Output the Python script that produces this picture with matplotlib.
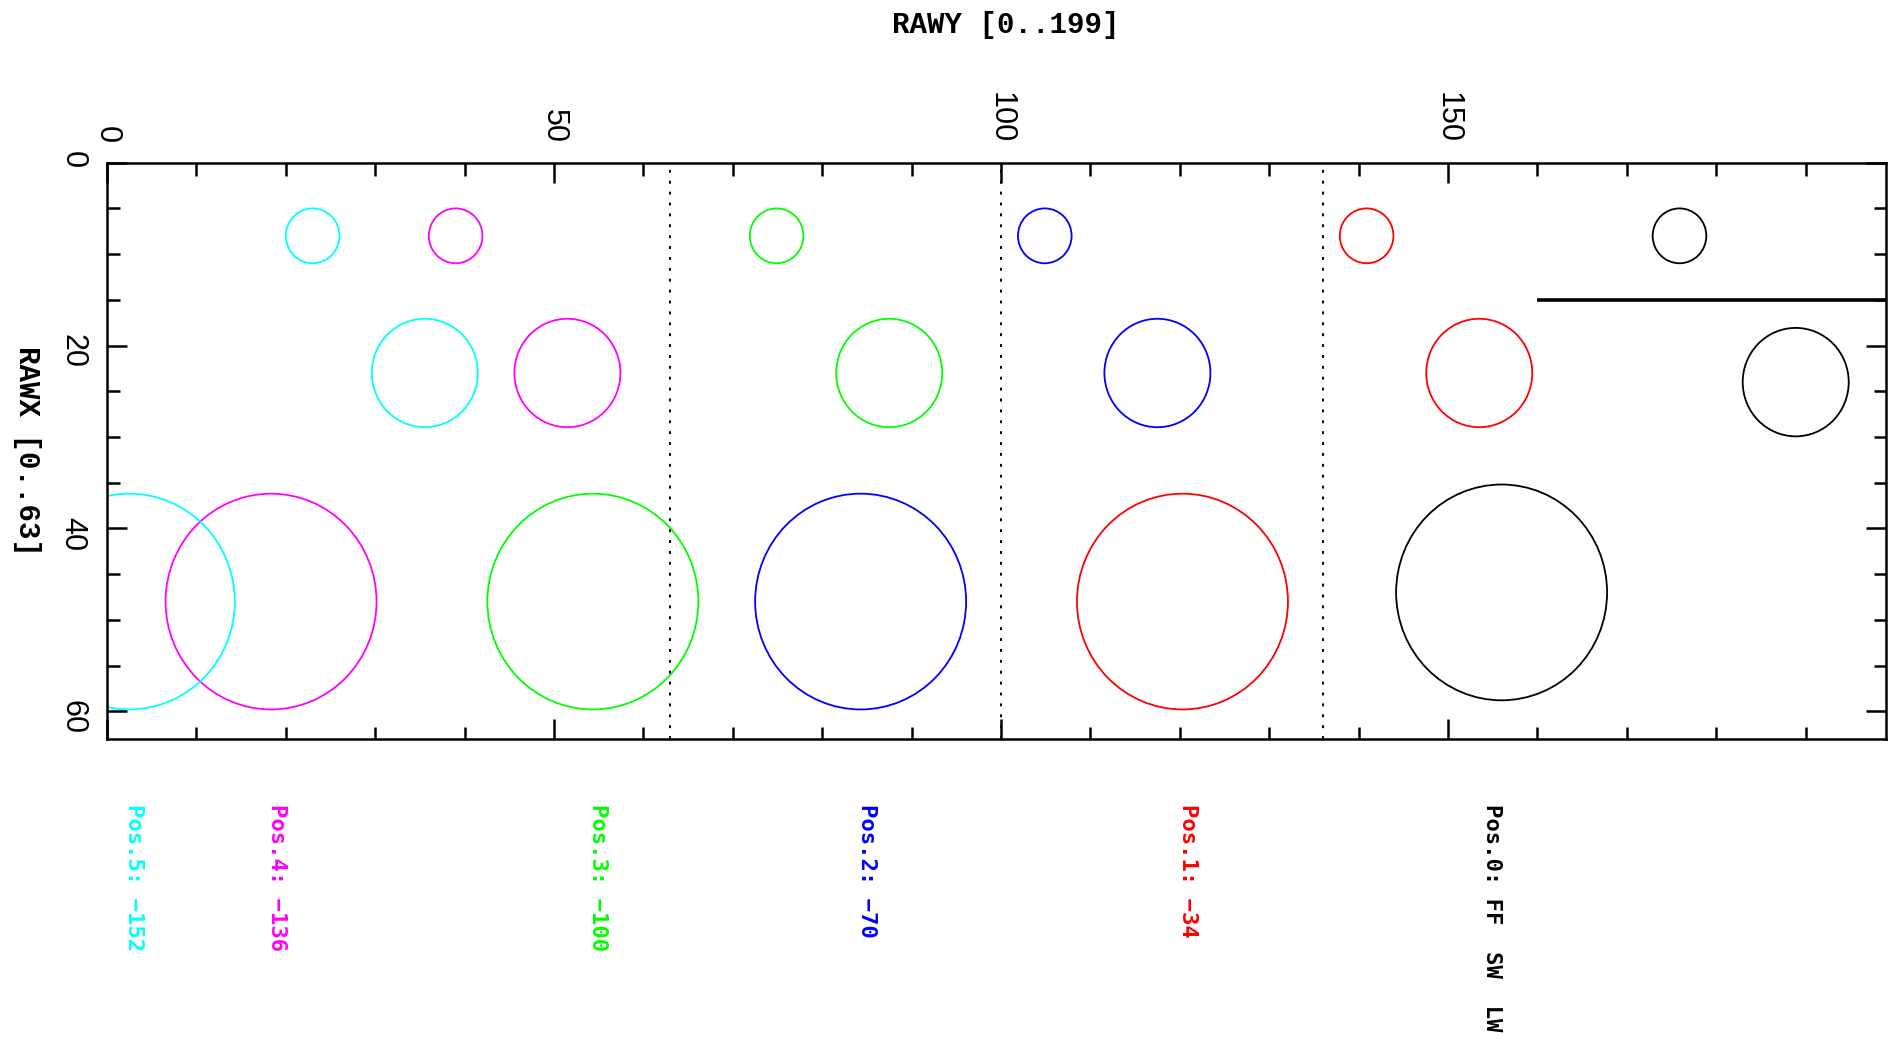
import matplotlib
matplotlib.use("Agg")
import matplotlib.pyplot as plt
from matplotlib.patches import Circle
from matplotlib.ticker import MultipleLocator
import matplotlib.transforms as mtransforms

# window positions (RAWY), one colour per position, Pos.0 .. Pos.5
pos_names = ["Pos.0: FF  SW  LW", "Pos.1: \u221234", "Pos.2: \u221270",
             "Pos.3: \u2212100", "Pos.4: \u2212136", "Pos.5: \u2212152"]
pos_colors = ["black", "red", "blue", "#00ff00", "magenta", "cyan"]

# circle centres in RAWY for the three rows (small / medium / large)
small_rawy = [175.9, 140.9, 104.9, 74.9, 39.0, 23.0]
medium_rawy = [188.9, 153.5, 117.5, 87.5, 51.5, 35.55]
large_rawy = [156.0, 120.3, 84.3, 54.35, 18.35, 2.5]

# circle centres in RAWX
small_rawx = [8, 8, 8, 8, 8, 8]
medium_rawx = [24, 23, 23, 23, 23, 23]
large_rawx = [47, 48, 48, 48, 48, 48]

small_r = 3.0
medium_r = 5.93
large_r = 11.8

label_rawy = [154.9, 120.9, 85.0, 54.9, 19.0, 3.0]

# boundaries between windows
boundaries = [63, 100, 136]

# thick bar
bar_rawy = [160, 199]
bar_rawx = 15

W, H = 1890, 1043
fig = plt.figure(figsize=(W / 100, H / 100), dpi=100)
ax = fig.add_axes([107 / W, 1 - 738.7 / H, 1779 / W, 576 / H])
ax.set_xlim(0, 199)
ax.set_ylim(63, 0)

for rows in [(small_rawy, small_rawx, small_r),
             (medium_rawy, medium_rawx, medium_r),
             (large_rawy, large_rawx, large_r)]:
    xs, ys, r = rows
    for x, y, c in zip(xs, ys, pos_colors):
        ax.add_patch(Circle((x, y), r, fill=False, edgecolor=c, lw=1.3))

for b in boundaries:
    ax.axvline(b, color="black", lw=1.4, linestyle=(0, (1.5, 4.1)))

ax.plot(bar_rawy, [bar_rawx, bar_rawx], color="black", lw=2.6,
        solid_capstyle="butt")

for s in ax.spines.values():
    s.set_linewidth(1.8)

ax.xaxis.set_major_locator(MultipleLocator(50))
ax.xaxis.set_minor_locator(MultipleLocator(10))
ax.yaxis.set_major_locator(MultipleLocator(20))
ax.yaxis.set_minor_locator(MultipleLocator(5))
ax.tick_params(which="both", direction="in", top=True, bottom=True,
               left=True, right=True, labeltop=True, labelbottom=False,
               labelleft=True, labelright=False, width=1.8, color="black")
ax.tick_params(which="major", length=14.4, pad=14)
ax.tick_params(which="minor", length=9)

for lab in ax.get_xticklabels() + ax.get_yticklabels():
    lab.set_rotation(-90)
    lab.set_fontfamily("Liberation Sans")
    lab.set_fontsize(22)

fig.text(ax.get_position().x0 + ax.get_position().width * 100.5 / 199,
         1 - 25 / H, "RAWY [0..199]", ha="center", va="center",
         fontsize=21, family="Liberation Mono", fontweight="bold")
fig.text(27 / W, 1 - 451 / H, "RAWX [0..63]", ha="center", va="center",
         rotation=-90, fontsize=21, family="Liberation Mono",
         fontweight="bold")

trans = mtransforms.blended_transform_factory(ax.transData, fig.transFigure)
for x, name, c in zip(label_rawy, pos_names, pos_colors):
    ax.text(x, 1 - 804 / H, name, transform=trans, rotation=-90,
            ha="center", va="top", color=c, fontsize=16,
            family="DejaVu Sans Mono", fontweight="bold", clip_on=False)

fig.savefig("out.png", dpi=100)
